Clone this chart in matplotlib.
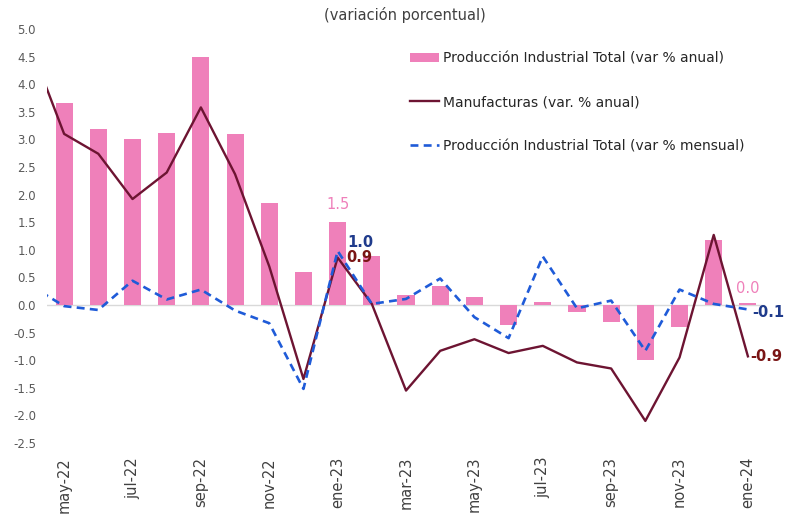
import numpy as np
import matplotlib.pyplot as plt

# Data (abr-22 is only partly visible at the left edge)
months = ['abr-22', 'may-22', 'jun-22', 'jul-22', 'ago-22', 'sep-22', 'oct-22', 'nov-22',
          'dic-22', 'ene-23', 'feb-23', 'mar-23', 'abr-23', 'may-23', 'jun-23', 'jul-23',
          'ago-23', 'sep-23', 'oct-23', 'nov-23', 'dic-23', 'ene-24']
prod_anual = [np.nan, 3.66, 3.19, 3.00, 3.11, 4.50, 3.10, 1.85, 0.59, 1.51, 0.88, 0.18,
              0.35, 0.14, -0.37, 0.05, -0.12, -0.30, -1.00, -0.39, 1.18, 0.03]
manuf_anual = [4.72, 3.10, 2.74, 1.92, 2.40, 3.58, 2.37, 0.70, -1.34, 0.86, 0.02, -1.55,
               -0.83, -0.62, -0.87, -0.74, -1.04, -1.15, -2.10, -0.95, 1.27, -0.93]
prod_mensual = [0.36, -0.02, -0.09, 0.44, 0.10, 0.28, -0.10, -0.33, -1.52, 0.98, 0.02, 0.11,
                0.48, -0.22, -0.60, 0.88, -0.06, 0.08, -0.83, 0.28, 0.02, -0.08]

PINK = '#EF80BA'
MAROON = '#6D1432'
BLUE = '#1F5BD8'
NAVY = '#1F3B8C'
DARKRED = '#7A1515'
GRAY = '#595959'

plt.rcParams['font.family'] = ['DejaVu Sans']

x = np.arange(len(months)) - 1  # abr-22 at -1, may-22 at 0

fig = plt.figure(figsize=(7.93, 5.21), dpi=100)
ax = fig.add_axes([0.0593, 0.1497, 0.9054, 0.7946])

ax.axhline(0, color='#D9D9D9', lw=1, zorder=1)
bars = ax.bar(x, prod_anual, width=0.5, color=PINK, zorder=2,
              label='Producción Industrial Total (var % anual)')
l1, = ax.plot(x, manuf_anual, color=MAROON, lw=1.7, zorder=3,
              label='Manufacturas (var. % anual)')
l2, = ax.plot(x, prod_mensual, color=BLUE, lw=1.9, ls=(0, (3, 2)), zorder=4,
              label='Producción Industrial Total (var % mensual)')

ax.set_xlim(-0.5, len(months) - 1.5)
ax.set_ylim(-2.5, 5.0)
yt = np.arange(-2.5, 5.01, 0.5)
ax.set_yticks(yt)
ax.set_yticklabels([f'{v:.1f}' for v in yt])
ticks = x[1::2]
ax.set_xticks(ticks)
ax.set_xticklabels([months[i + 1] for i in ticks], rotation=90)
ax.tick_params(axis='y', length=0, labelsize=8.5, labelcolor=GRAY, pad=8)
ax.tick_params(axis='x', length=0, labelsize=10.5, labelcolor='#404040', pad=10)
for s in ax.spines.values():
    s.set_visible(False)

fig.text(0.511, 0.972, '(variación porcentual)', ha='center', va='center',
         fontsize=10.5, color='#404040')

ax.legend([bars, l1, l2], [bars.get_label(), l1.get_label(), l2.get_label()],
          loc='upper left', bbox_to_anchor=(0.496, 0.963), frameon=False, borderpad=0,
          fontsize=10, labelspacing=2.15, handlelength=2.1, handletextpad=0.3,
          labelcolor='#262626')

# data labels
i_e23 = months.index('ene-23')
i_e24 = months.index('ene-24')
ax.annotate(f"{prod_anual[i_e23]:.1f}", (x[i_e23], prod_anual[i_e23]),
            xytext=(0, 7), textcoords='offset points', ha='center', va='bottom',
            color=PINK, fontsize=10.5)
ax.annotate(f"{prod_mensual[i_e23]:.1f}", (x[i_e23], prod_mensual[i_e23]),
            xytext=(7, 6), textcoords='offset points', ha='left', va='center',
            color=NAVY, fontsize=10.5, fontweight='bold')
ax.annotate(f"{manuf_anual[i_e23]:.1f}", (x[i_e23], manuf_anual[i_e23]),
            xytext=(6, 0), textcoords='offset points', ha='left', va='center',
            color=DARKRED, fontsize=10.5, fontweight='bold')
ax.annotate(f"{prod_anual[i_e24]:.1f}", (x[i_e24], prod_anual[i_e24]),
            xytext=(0, 5), textcoords='offset points', ha='center', va='bottom',
            color=PINK, fontsize=10.5)
ax.annotate(f"{prod_mensual[i_e24]:.1f}", (x[i_e24], prod_mensual[i_e24]),
            xytext=(3, -2), textcoords='offset points', ha='left', va='center',
            color=NAVY, fontsize=10.5, fontweight='bold')
ax.annotate(f"{manuf_anual[i_e24]:.1f}", (x[i_e24], manuf_anual[i_e24]),
            xytext=(1.5, 0), textcoords='offset points', ha='left', va='center',
            color=DARKRED, fontsize=10.5, fontweight='bold')

fig.savefig('out.png', dpi=100)
